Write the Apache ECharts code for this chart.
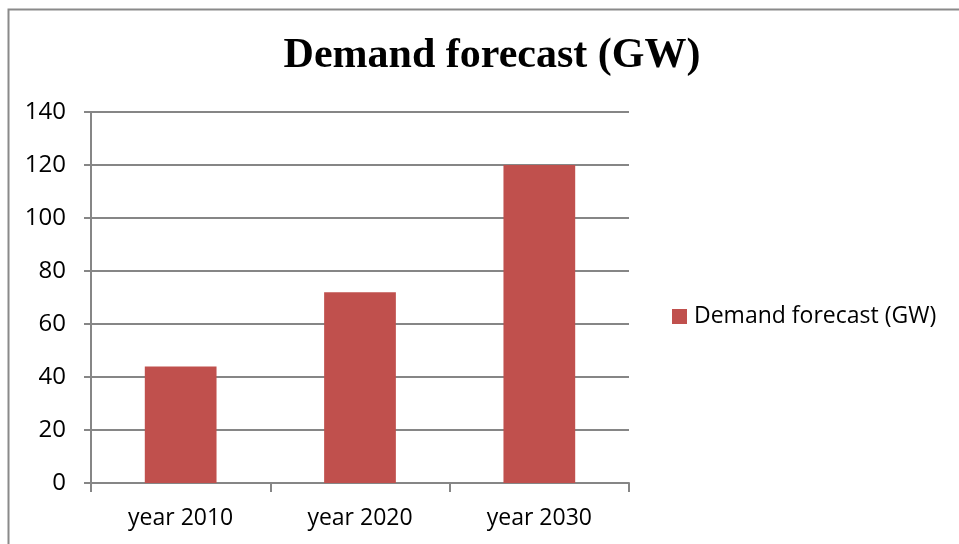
<!DOCTYPE html>
<html>
<head>
<meta charset="utf-8">
<script src="https://cdn.jsdelivr.net/npm/echarts@6/dist/echarts.min.js"></script>
<style>
  html, body { margin: 0; padding: 0; background: #fff; }
  #chart { width: 959px; height: 544px; }
</style>
</head>
<body>
<div id="chart"></div>
<script>
// Projected demand per decade, in gigawatts
const categories = ['year 2010', 'year 2020', 'year 2030'];
const demandGW = [44, 72, 120];
const seriesName = 'Demand forecast (GW)';
const chartTitle = 'Demand forecast (GW)';

const chart = echarts.init(document.getElementById('chart'), null, { renderer: 'canvas' });

const labelFont = '"Open Sans", "Noto Sans", sans-serif';
const gridColor = '#868686';

chart.setOption({
  animation: false,
  backgroundColor: '#ffffff',
  graphic: [
    {
      // outer chart frame (top and left edges)
      type: 'polyline',
      silent: true,
      shape: { points: [[8.5, 544], [8.5, 9.5], [959, 9.5]] },
      style: { stroke: '#8a8a8a', lineWidth: 2, fill: null }
    }
  ],
  title: {
    text: chartTitle,
    left: 487,
    textAlign: 'center',
    top: 30,
    textStyle: {
      fontFamily: '"Liberation Serif", "DejaVu Serif", serif',
      fontWeight: 'bold',
      fontSize: 42,
      color: '#000'
    }
  },
  legend: {
    data: [seriesName],
    left: 672,
    top: 305,
    padding: 0,
    orient: 'vertical',
    itemWidth: 15,
    itemHeight: 15,
    itemGap: 6,
    icon: 'rect',
    textStyle: { fontFamily: labelFont, fontSize: 23, color: '#000', padding: [0, 0, 0, 2] }
  },
  grid: {
    left: 91,
    right: 959 - 629,
    top: 112,
    bottom: 544 - 483,
    containLabel: false
  },
  xAxis: {
    type: 'category',
    data: categories,
    axisLine: { show: true, lineStyle: { color: gridColor, width: 2 } },
    axisTick: { show: true, alignWithLabel: false, length: 9, lineStyle: { color: gridColor, width: 2 } },
    axisLabel: { fontFamily: labelFont, fontSize: 23, color: '#000', margin: 24 }
  },
  yAxis: {
    type: 'value',
    min: 0,
    max: 140,
    interval: 20,
    axisLine: { show: true, lineStyle: { color: gridColor, width: 2 } },
    axisTick: { show: true, length: 7, lineStyle: { color: gridColor, width: 2 } },
    splitLine: { show: true, lineStyle: { color: gridColor, width: 2 } },
    axisLabel: { fontFamily: labelFont, fontSize: 24, color: '#000', margin: 25 }
  },
  series: [
    {
      name: seriesName,
      type: 'bar',
      data: demandGW,
      barWidth: '40%',
      itemStyle: { color: '#C0504D' }
    }
  ]
});
</script>
</body>
</html>
